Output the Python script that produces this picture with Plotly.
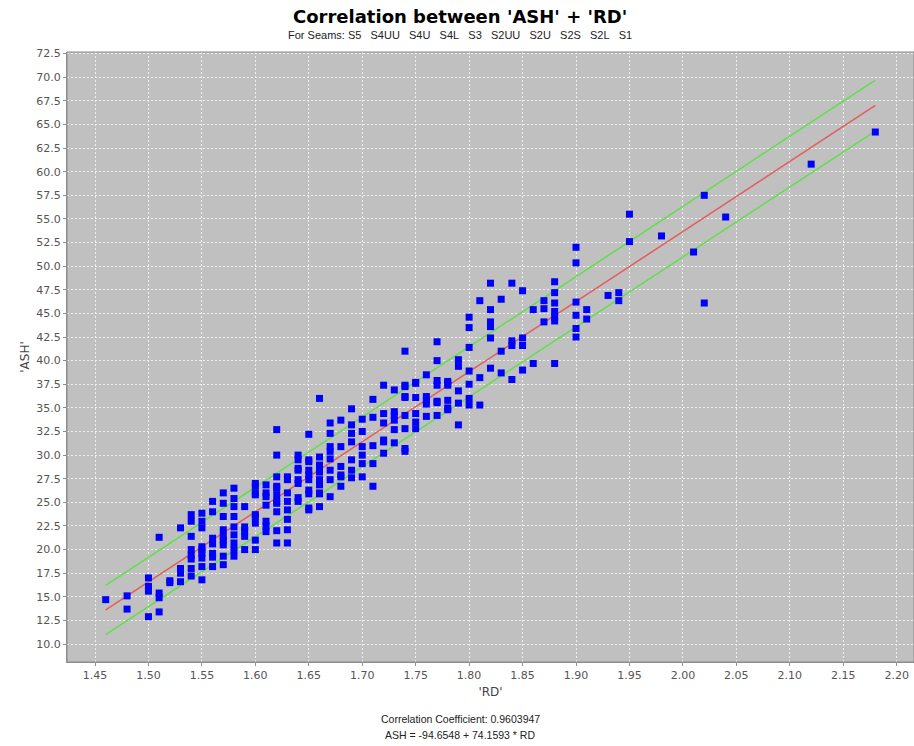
import plotly.graph_objects as go

# ---- data (RD, ASH) ----
rd_cols = {
    1.46: [14.7],
    1.48: [15.1, 13.7],
    1.50: [17.0, 16.1, 15.6, 12.9],
    1.51: [21.3, 15.4, 14.9, 13.4],
    1.52: [16.5, 16.7],
    1.53: [22.3, 18.0, 17.5, 16.6, 17.8],
    1.54: [23.7, 23.0, 21.4, 19.4, 18.0, 17.2, 20.0, 19.0],
    1.55: [23.85, 23.0, 22.3, 20.0, 19.1, 16.8, 18.2, 19.6, 20.3],
    1.56: [25.1, 24.0, 19.6, 18.2, 20.6, 21.2, 19.2],
    1.57: [26.0, 24.9, 23.5, 22.1, 21.0, 19.3, 18.4, 21.4, 20.5],
    1.58: [26.5, 25.4, 24.55, 23.5, 22.4, 21.56, 20.0, 19.3, 20.7],
    1.59: [22.4, 21.4, 24.55, 20.0, 22.0],
    1.60: [27.0, 26.0, 25.8, 23.7, 23.5, 22.8, 21.0, 20.0, 26.7],
    1.61: [26.85, 26.0, 24.7, 23.0, 21.9, 25.6, 22.5],
    1.62: [32.7, 30.0, 27.7, 26.7, 25.8, 26.5, 25.1, 24.0, 24.9, 22.0, 20.7],
    1.63: [27.7, 26.0, 25.1, 22.1, 20.7, 27.4, 24.2, 23.2],
    1.64: [30.0, 28.6, 27.0, 25.1, 29.5, 28.4, 27.4, 25.5],
    1.65: [32.2, 29.5, 27.9, 26.3, 24.4, 29.3, 28.4, 27.4, 24.2, 25.9],
    1.66: [36.0, 29.8, 28.95, 28.2, 26.85, 25.9, 28.4, 27.4, 26.0, 24.55],
    1.67: [33.4, 32.3, 30.4, 29.6, 28.4, 27.4, 25.6, 30.9],
    1.68: [33.7, 30.9, 28.8, 27.7, 27.9, 26.7],
    1.69: [34.9, 33.2, 32.3, 31.4, 29.5, 28.4, 27.6],
    1.70: [32.5, 30.9, 30.0, 29.1, 27.7, 33.8],
    1.71: [35.9, 29.1, 26.7, 34.0, 31.0],
    1.72: [37.4, 34.4, 33.4, 31.6, 30.2, 31.4],
    1.73: [36.9, 34.6, 33.7, 32.7, 34.2, 31.3],
    1.74: [41.0, 37.4, 36.2, 32.8, 30.7, 37.25, 36.1, 34.2, 30.4],
    1.75: [37.6, 34.4, 32.8, 37.7, 36.1, 33.5],
    1.76: [38.5, 35.8, 35.4, 34.1, 36.2],
    1.77: [37.4, 35.7, 34.2, 42.0, 40.0, 37.9, 35.55],
    1.78: [37.6, 37.8, 37.4, 35.8, 35.0, 34.8],
    1.79: [40.1, 39.4, 36.8, 33.2, 35.5],
    1.80: [44.6, 43.5, 41.4, 38.9, 37.5, 36.0, 35.3],
    1.81: [46.35, 35.3, 38.2],
    1.82: [48.2, 45.4, 44.1, 43.6, 42.4, 39.2],
    1.83: [46.5, 41.0, 38.7],
    1.84: [48.2, 42.1, 41.6, 38.0],
    1.85: [47.4, 42.4, 41.6, 39.0],
    1.86: [45.4, 39.7],
    1.87: [46.35, 45.5, 44.1],
    1.88: [48.35, 47.2, 46.1, 45.2, 44.6, 44.2, 39.7],
    1.90: [52.0, 50.35, 46.2, 44.8, 43.4, 42.5],
    1.91: [45.4, 44.4],
    1.93: [46.9],
    1.94: [47.2, 46.35],
    1.95: [55.5, 52.6],
    1.98: [53.2],
    2.01: [51.5],
    2.02: [57.5, 46.1],
    2.04: [55.2],
    2.12: [60.8],
    2.18: [64.2],
}
rd = [x for x, ys in rd_cols.items() for _ in ys]
ash = [y for ys in rd_cols.values() for y in ys]

# regression line: ASH = -94.6548 + 74.1593 * RD
intercept = -94.6548
slope = 74.1593
fit_x = [1.46, 2.18]
fit_y = [intercept + slope * x for x in fit_x]
upper_y = [16.2, 69.7]
lower_y = [11.0, 64.3]

title = "Correlation between 'ASH' + 'RD'"
seams = ["S5", "S4UU", "S4U", "S4L", "S3", "S2UU", "S2U", "S2S", "S2L", "S1"]
subtitle = "For Seams: " + "&nbsp;&nbsp;&nbsp;".join(seams)
footer1 = "Correlation Coefficient: 0.9603947"
footer2 = "ASH = -94.6548 + 74.1593 * RD"

x_ticks = [round(1.45 + 0.05 * i, 2) for i in range(16)]
y_ticks = [10.0 + 2.5 * i for i in range(26)]

fig = go.Figure()
fig.add_trace(go.Scatter(x=fit_x, y=upper_y, mode="lines",
                         line=dict(color="#5fe04a", width=1.5), hoverinfo="skip"))
fig.add_trace(go.Scatter(x=fit_x, y=lower_y, mode="lines",
                         line=dict(color="#5fe04a", width=1.5), hoverinfo="skip"))
fig.add_trace(go.Scatter(x=fit_x, y=fit_y, mode="lines",
                         line=dict(color="#e85a5a", width=1.5), hoverinfo="skip"))
fig.add_trace(go.Scatter(x=rd, y=ash, mode="markers",
                         marker=dict(symbol="square", size=7, color="#0000ff",
                                     line=dict(width=0))))

tickfont = dict(family="DejaVu Sans", size=11, color="#555555")
axis_common = dict(showgrid=True, gridcolor="#f0f0f0", griddash="2px,2px", gridwidth=1,
                   zeroline=False, showline=True, linecolor="#909090",
                   ticks="outside", ticklen=3, tickcolor="#909090", tickfont=tickfont)
fig.update_layout(
    width=914, height=746,
    margin=dict(l=67, r=0, t=52, b=84),
    paper_bgcolor="white", plot_bgcolor="#c0c0c0",
    showlegend=False,
    xaxis=dict(range=[1.4238, 2.2162], tickvals=x_ticks,
               ticktext=[f"{v:.2f}" for v in x_ticks],
               title=dict(text="'RD'", font=dict(family="DejaVu Sans", size=12, color="#444444"),
                          standoff=6), **axis_common),
    yaxis=dict(range=[8.1, 72.67], tickvals=y_ticks,
               ticktext=[f"{v:.1f}" for v in y_ticks],
               title=dict(text="'ASH'", font=dict(family="DejaVu Sans", size=12, color="#444444"),
                          standoff=4), **axis_common),
)

cx = (460 - 67) / 847
fig.add_annotation(text=f"<b>{title}</b>", xref="paper", yref="paper",
                   x=cx, y=1 + (52 - 16) / 610,
                   showarrow=False, xanchor="center", yanchor="middle",
                   font=dict(family="DejaVu Sans", size=18, color="black"))
fig.add_annotation(text=subtitle, xref="paper", yref="paper",
                   x=cx, y=1 + (52 - 35) / 610,
                   showarrow=False, xanchor="center", yanchor="middle",
                   font=dict(family="Liberation Sans", size=11, color="#222222"))
fig.add_annotation(text=footer1, xref="paper", yref="paper",
                   x=cx, y=-(719 - 662) / 610,
                   showarrow=False, xanchor="center", yanchor="middle",
                   font=dict(family="Liberation Sans", size=10.5, color="#222222"))
fig.add_annotation(text=footer2, xref="paper", yref="paper",
                   x=cx, y=-(735 - 662) / 610,
                   showarrow=False, xanchor="center", yanchor="middle",
                   font=dict(family="Liberation Sans", size=10.5, color="#222222"))
fig.add_shape(type="rect", xref="paper", yref="paper", x0=0, y0=0, x1=1, y1=1,
              line=dict(color="#8a8a8a", width=1))
fig.write_html("out.html")
